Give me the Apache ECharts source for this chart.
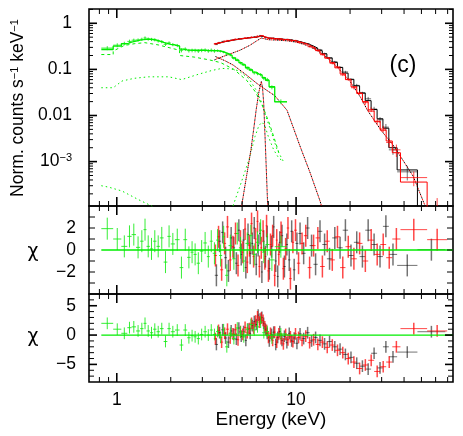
<!DOCTYPE html>
<html>
<head>
<meta charset="utf-8">
<title>Spectrum (c)</title>
<script src="https://cdn.jsdelivr.net/npm/echarts@6/dist/echarts.min.js"></script>
<style>
  html, body { margin: 0; padding: 0; background: #fff; }
  #chart { width: 463px; height: 436px; }
</style>
</head>
<body>
<div id="chart"></div>
<script>
const FONT = 'Liberation Sans';

// ---- axes ----
const X_MIN = 0.7, X_MAX = 75;
const TOP_MIN = 1.09e-4, TOP_MAX = 2.04;
const xMajorTicks = [1, 10];
const xMinorTicks = [0.8, 0.9, 2, 3, 4, 5, 6, 7, 8, 9, 20, 30, 40, 50, 60, 70];
const topMajorTicks = [0.001, 0.01, 0.1, 1];
const topMinorTicks = [2e-4, 3e-4, 4e-4, 5e-4, 6e-4, 7e-4, 8e-4, 9e-4,
  0.002, 0.003, 0.004, 0.005, 0.006, 0.007, 0.008, 0.009,
  0.02, 0.03, 0.04, 0.05, 0.06, 0.07, 0.08, 0.09,
  0.2, 0.3, 0.4, 0.5, 0.6, 0.7, 0.8, 0.9, 2];
const midTicks = [-3, -2, -1, 0, 1, 2, 3];
const midLabels = [-2, 0, 2];
const lowTicks = [-7, -6, -4, -3, -2, -1, 1, 2, 3, 4, 6];
const lowMajorTicks = [-5, 0, 5];

// ---- green (soft detector) ----
const greenEdges = [0.82, 0.955, 1.06, 1.145, 1.21, 1.28, 1.35, 1.41, 1.465, 1.53,
  1.595, 1.665, 1.74, 1.825, 1.915, 2.0, 2.11, 2.24, 2.35, 2.47,
  2.58, 2.68, 2.79, 2.91, 3.04, 3.18, 3.3, 3.43, 3.58, 3.72,
  3.87, 4.02, 4.2, 4.4, 4.6, 4.8, 5.0, 5.22, 5.47, 5.72,
  5.97, 6.22, 6.47, 6.75, 7.07, 7.6, 8.9];
const greenModel = [0.27, 0.32, 0.36, 0.39, 0.41, 0.43, 0.44, 0.45, 0.45, 0.445,
  0.43, 0.41, 0.385, 0.365, 0.35, 0.34, 0.32, 0.275, 0.265, 0.262,
  0.26, 0.26, 0.26, 0.26, 0.258, 0.256, 0.255, 0.254, 0.252, 0.245,
  0.235, 0.22, 0.2, 0.178, 0.158, 0.14, 0.125, 0.11, 0.097, 0.087,
  0.079, 0.075, 0.066, 0.058, 0.042, 0.0197];
const greenRate = [0.29, 0.335, 0.365, 0.405, 0.43, 0.435, 0.45, 0.48, 0.455, 0.447,
  0.44, 0.415, 0.4, 0.35, 0.375, 0.345, 0.33, 0.26, 0.275, 0.255,
  0.258, 0.257, 0.25, 0.259, 0.262, 0.252, 0.26, 0.252, 0.255, 0.248,
  0.238, 0.215, 0.205, 0.175, 0.16, 0.138, 0.128, 0.106, 0.099, 0.084,
  0.081, 0.077, 0.064, 0.06, 0.041, 0.02];
const greenErr = [0.1, 0.1, 0.09, 0.09, 0.08, 0.08, 0.08, 0.08, 0.08, 0.08,
  0.08, 0.08, 0.08, 0.08, 0.08, 0.08, 0.08, 0.1, 0.09, 0.09,
  0.09, 0.09, 0.09, 0.09, 0.09, 0.09, 0.09, 0.09, 0.06, 0.06,
  0.06, 0.06, 0.06, 0.07, 0.07, 0.07, 0.07, 0.08, 0.08, 0.08,
  0.08, 0.08, 0.09, 0.09, 0.1, 0.12];
const greenChiA = [1.94, 1.0, 0.33, 1.24, 1.4, 0.24, 0.8, 1.85, 0.33, 0.1,
  0.8, 0.33, 1.1, -1.1, 1.24, 0.55, 0.94, -1.6, 0.94, -0.67,
  -0.2, -0.4, -1.2, -0.1, 0.64, -0.6, 0.8, -0.3, 0.9, -0.5,
  1.2, -2.3, 0.4, -0.8, 1.5, 0.2, -1.0, 0.6, 1.3, -0.4,
  0.7, 1.8, -0.2, 0.5, -0.9, 0.3];
const greenChiB = [2.0, 1.0, 0.3, 1.26, 1.4, 0.7, 1.1, 2.0, 0.7, 0.4,
  1.0, 0.57, 1.1, -1.1, 1.1, 0.57, 0.86, -1.7, 0.86, -0.46,
  -0.1, -0.3, -0.6, 0.1, 0.57, 0, 0.86, 0.1, 0.6, -0.4,
  0.9, -2.0, 0.3, -0.6, 1.2, 0.5, -0.3, 1.0, 1.8, 0.9,
  1.4, 2.2, 0.4, 0.6, -0.5, 0.2];

// ---- red (hard detector, unit 1) ----
const redEdges = [3.48, 3.62, 3.77, 3.92, 4.07, 4.22, 4.37, 4.52, 4.67, 4.82,
  4.97, 5.12, 5.27, 5.42, 5.57, 5.72, 5.87, 6.02, 6.17, 6.32,
  6.47, 6.62, 6.77, 6.92, 7.1, 7.3, 7.5, 7.7, 7.9, 8.12,
  8.37, 8.62, 8.87, 9.15, 9.45, 9.75, 10.1, 10.55, 11.05, 11.6,
  12.2, 12.85, 13.6, 14.45, 15.4, 16.45, 17.6, 18.85, 20.25, 21.8,
  23.45, 25.25, 27.25, 29.45, 31.8, 34.4, 38.2, 53.8, 69.6];
const redModel = [0.36, 0.375, 0.39, 0.405, 0.415, 0.425, 0.435, 0.445, 0.452, 0.46,
  0.467, 0.474, 0.48, 0.486, 0.49, 0.495, 0.5, 0.51, 0.525, 0.54,
  0.52, 0.5, 0.485, 0.478, 0.472, 0.468, 0.464, 0.46, 0.456, 0.452,
  0.447, 0.442, 0.437, 0.43, 0.42, 0.41, 0.395, 0.375, 0.35, 0.32,
  0.29, 0.255, 0.215, 0.175, 0.14, 0.108, 0.08, 0.06, 0.042, 0.03,
  0.02, 0.0125, 0.0075, 0.0048, 0.0028, 0.00156, 0.00036, 0.00005];
const redRate = [0.355, 0.38, 0.382, 0.41, 0.425, 0.42, 0.437, 0.455, 0.445, 0.465,
  0.466, 0.485, 0.474, 0.488, 0.505, 0.492, 0.505, 0.53, 0.515, 0.543,
  0.535, 0.496, 0.497, 0.47, 0.475, 0.475, 0.45, 0.465, 0.454, 0.459,
  0.44, 0.443, 0.447, 0.422, 0.423, 0.425, 0.385, 0.38, 0.358, 0.31,
  0.293, 0.262, 0.208, 0.18, 0.135, 0.113, 0.076, 0.061, 0.04, 0.031,
  0.019, 0.0135, 0.0073, 0.0051, 0.0026, 0.0018, 0.00045, 0.00009];
const redErr = [0.02, 0.02, 0.02, 0.02, 0.02, 0.02, 0.02, 0.02, 0.02, 0.02,
  0.02, 0.02, 0.02, 0.02, 0.02, 0.02, 0.02, 0.02, 0.02, 0.02,
  0.02, 0.02, 0.02, 0.02, 0.025, 0.025, 0.025, 0.025, 0.025, 0.025,
  0.025, 0.025, 0.025, 0.025, 0.025, 0.025, 0.03, 0.03, 0.03, 0.035,
  0.035, 0.04, 0.04, 0.045, 0.05, 0.055, 0.06, 0.07, 0.08, 0.09,
  0.1, 0.12, 0.14, 0.17, 0.22, 0.3, 0.35, 0.8];
const redChiA = [-0.5, 1.2, -1.8, 0.6, 2.1, -0.9, 0.3, 1.5, -1.4, 0.8,
  -0.2, 1.9, -1.1, 0.4, 2.4, -0.6, 1.0, 2.6, -1.5, 0.2,
  1.7, -0.8, 2.2, -1.9, 0.5, 1.3, -2.3, 0.9, -0.4, 1.6,
  -1.7, 0.1, 2.0, -2.6, 0.7, 1.8, -1.2, 0.6, 1.3, -1.6,
  0.4, 1.1, -1.5, 0.8, -0.9, 1.2, -1.6, 0.3, -0.8, 0.6,
  -1.0, 0.9, -0.4, 0.5, -0.7, 1.0, 1.85, 0.94];
const redChiB = [-0.6, 0.8, -1.2, 0.3, 1.0, -0.5, 0.2, 0.9, -0.8, 0.6,
  0.1, 1.3, 0.4, 1.1, 2.0, 1.2, 2.4, 3.1, 2.2, 2.9,
  2.5, 1.4, 0.8, -0.4, 0.3, -0.9, 0.5, -1.2, 0.2, -0.6,
  -1.5, 0.1, -0.8, -0.3, -1.1, 0.2, -0.4, -0.9, -0.2, -1.3,
  -0.8, -1.6, -1.2, -2.1, -1.7, -2.6, -3.0, -4.0, -4.6, -5.7,
  -5.1, -4.3, -6.2, -5.4, -4.6, -2.0, 1.1, 0.7];

// ---- black (hard detector, unit 2) ----
const blackEdges = [3.52, 3.67, 3.82, 3.97, 4.12, 4.27, 4.42, 4.57, 4.72, 4.87,
  5.02, 5.17, 5.32, 5.47, 5.62, 5.77, 5.92, 6.07, 6.22, 6.37,
  6.52, 6.67, 6.82, 6.98, 7.2, 7.4, 7.6, 7.8, 8.0, 8.22,
  8.47, 8.75, 9.02, 9.3, 9.6, 9.92, 10.3, 10.75, 11.3, 11.9,
  12.5, 13.2, 14.0, 14.85, 15.9, 17.0, 18.2, 19.5, 21.0, 22.6,
  24.3, 26.2, 28.3, 30.5, 32.9, 36.6, 47.5, 68.0];
const blackModel = [0.365, 0.38, 0.395, 0.408, 0.418, 0.428, 0.438, 0.447, 0.455, 0.462,
  0.469, 0.476, 0.482, 0.487, 0.492, 0.497, 0.503, 0.515, 0.532, 0.535,
  0.51, 0.492, 0.482, 0.476, 0.471, 0.467, 0.463, 0.459, 0.455, 0.45,
  0.446, 0.44, 0.435, 0.428, 0.419, 0.408, 0.392, 0.372, 0.348, 0.32,
  0.29, 0.255, 0.217, 0.178, 0.142, 0.11, 0.083, 0.061, 0.044, 0.031,
  0.021, 0.0135, 0.0085, 0.0053, 0.002, 0.00066, 0.00004];
const blackRate = [0.345, 0.385, 0.405, 0.405, 0.41, 0.433, 0.439, 0.442, 0.465, 0.46,
  0.473, 0.468, 0.49, 0.486, 0.495, 0.51, 0.496, 0.518, 0.545, 0.522,
  0.517, 0.488, 0.488, 0.468, 0.472, 0.478, 0.459, 0.45, 0.458, 0.455,
  0.442, 0.448, 0.437, 0.436, 0.412, 0.413, 0.4, 0.37, 0.362, 0.323,
  0.284, 0.268, 0.221, 0.174, 0.146, 0.111, 0.088, 0.06, 0.045, 0.03,
  0.023, 0.0138, 0.0081, 0.0056, 0.0018, 0.0006, 0.00005];
const blackErr = [0.02, 0.02, 0.02, 0.02, 0.02, 0.02, 0.02, 0.02, 0.02, 0.02,
  0.02, 0.02, 0.02, 0.02, 0.02, 0.02, 0.02, 0.02, 0.02, 0.02,
  0.02, 0.02, 0.02, 0.02, 0.025, 0.025, 0.025, 0.025, 0.025, 0.025,
  0.025, 0.025, 0.025, 0.025, 0.025, 0.025, 0.03, 0.03, 0.03, 0.035,
  0.035, 0.04, 0.04, 0.045, 0.05, 0.055, 0.06, 0.07, 0.08, 0.09,
  0.1, 0.12, 0.14, 0.17, 0.22, 0.35, 0.8];
const blackChiA = [-2.3, 0.8, 1.6, -0.7, -1.9, 1.1, 0.2, -1.2, 1.8, -0.4,
  0.9, -1.6, 1.4, -0.3, 0.6, 2.0, -1.3, 0.4, 1.5, -2.0,
  0.8, -0.6, 1.2, -1.7, 0.3, 2.1, -1.0, -2.4, 0.7, 1.3,
  -1.5, 0.5, -0.9, 1.7, -1.8, 0.6, 1.5, -0.3, 2.0, 0.4,
  -1.3, 1.7, 0.5, -0.8, 1.1, 0.2, 1.8, -0.5, 0.7, -0.6,
  1.8, 0.5, -0.6, 2.15, -0.4, -1.4, 0.03];
const blackChiB = [-1.6, 0.4, 0.9, -0.5, -1.2, 0.7, 0.1, -0.7, 1.2, -0.2,
  0.6, -0.9, 1.0, 0.3, 1.6, 2.3, 1.8, 3.4, 2.7, 3.0,
  2.0, 1.0, 0.3, -1.0, 0.1, 0.5, -1.6, -0.4, 0.6, -0.9,
  -0.2, -1.3, 0.3, -1.0, -0.5, -1.4, 0.2, -0.6, 0.4, -1.0,
  -0.4, -0.9, -1.5, -1.1, -2.0, -2.4, -3.3, -3.8, -4.8, -5.3,
  -5.8, -3.1, -5.6, -2.0, -3.7, -2.9, 0.57];

// ---- model components (top panel, dotted) ----
const greenSoftE = [0.82, 0.955, 0.955, 1.1, 1.25, 1.43, 1.7, 2.0, 2.24, 2.24, 2.7, 3.3, 3.8, 4.5, 5.3, 5.95, 6.5, 7.07, 7.5, 8.0];
const greenSoftV = [0.21, 0.21, 0.25, 0.33, 0.36, 0.38, 0.34, 0.29, 0.26, 0.2, 0.185, 0.16, 0.14, 0.1, 0.058, 0.032, 0.016, 0.007, 0.0035, 0.0016];
const greenHardE = [0.82, 0.955, 1.07, 1.25, 1.5, 1.95, 2.3, 2.87, 3.4, 3.85, 4.3, 4.8, 5.46, 5.95, 6.4, 6.77, 7.3, 7.8, 8.5];
const greenHardV = [0.04, 0.04, 0.056, 0.064, 0.069, 0.069, 0.06, 0.079, 0.095, 0.105, 0.103, 0.093, 0.063, 0.037, 0.02, 0.0098, 0.0042, 0.0019, 0.001];
const greenBbE = [0.82, 0.9, 1.07, 1.32, 1.56, 1.75];
const greenBbV = [3e-4, 2.8e-4, 2.3e-4, 1.5e-4, 1.1e-4, 8e-5];
const greenLineE = [4.45, 5.0, 5.5, 5.9, 6.2, 6.45, 6.7, 7.0, 7.5, 8.0, 8.5];
const greenLineV = [1.1e-4, 4e-4, 0.0012, 0.0035, 0.006, 0.0072, 0.006, 0.0035, 0.0018, 0.0012, 0.001];
const redContE = [3.5, 3.66, 4.2, 4.86, 5.5, 6.0, 6.4, 7.0, 8.0, 9.0, 10, 11, 12, 13.6, 15, 17, 20, 23, 25, 28, 30, 35, 38.2, 45, 51.5, 55];
const redContV = [0.16, 0.173, 0.21, 0.26, 0.33, 0.41, 0.48, 0.44, 0.43, 0.415, 0.39, 0.35, 0.31, 0.235, 0.175, 0.11, 0.055, 0.024, 0.013, 0.0068, 0.0046, 0.0022, 0.0013, 0.00048, 0.00013, 0.00007];
const redSoftE = [3.55, 4.0, 4.46, 5.3, 6.03, 6.8, 7.6, 8.9, 10.5, 12, 13.6, 14.5];
const redSoftV = [0.19, 0.155, 0.124, 0.075, 0.05, 0.036, 0.027, 0.013, 0.0022, 0.00056, 0.00014, 0.00006];
const redLineE = [4.95, 5.3, 5.6, 5.8, 6.0, 6.2, 6.4, 6.5, 6.6, 6.75, 6.95];
const redLineV = [1e-4, 5e-4, 0.0018, 0.005, 0.014, 0.032, 0.055, 0.04, 0.018, 0.002, 1e-4];

// ---- helpers ----
const pairs = (xs, ys) => xs.map((x, i) => [x, ys[i]]);

// histogram steps: one point per bin start, plus the last bin end
function steps(edges, vals) {
  const pts = vals.map((v, i) => [edges[i], v]);
  pts.push([edges[edges.length - 1], vals[vals.length - 1]]);
  return pts;
}

// [lo, hi, value, errLow, errHigh]
function rateBars(edges, vals, frac) {
  return vals.map((v, i) => [edges[i], edges[i + 1], v, v * (1 - frac[i]), v * (1 + frac[i])]);
}
function chiBars(edges, vals) {
  return vals.map((v, i) => [edges[i], edges[i + 1], v, v - 1, v + 1]);
}

function errSeries(gi, data, color, z, width) {
  const lw = width || 1;
  return {
    type: 'custom', xAxisIndex: gi, yAxisIndex: gi, z, silent: true, clip: true,
    data, encode: { x: [0, 1], y: [2, 3, 4] },
    renderItem(params, api) {
      const lo = api.value(0), hi = api.value(1), v = api.value(2);
      const mid = Math.sqrt(lo * hi);
      const a = api.coord([lo, v]), b = api.coord([hi, v]);
      const c = api.coord([mid, api.value(3)]), d = api.coord([mid, api.value(4)]);
      return {
        type: 'group',
        children: [
          { type: 'line', shape: { x1: a[0], y1: a[1], x2: b[0], y2: b[1] }, style: { stroke: color, lineWidth: 1 } },
          { type: 'line', shape: { x1: c[0], y1: c[1], x2: d[0], y2: d[1] }, style: { stroke: color, lineWidth: lw } }
        ]
      };
    }
  };
}

function lineSeries(gi, data, color, dash, z, extra) {
  return Object.assign({
    type: 'line', xAxisIndex: gi, yAxisIndex: gi, data, z, silent: true,
    showSymbol: false, symbol: 'none', clip: true,
    lineStyle: { color, width: 1, type: dash || 'solid' }
  }, extra || {});
}

// inward ticks on all four sides of a panel
function tickSeries(gi, items, xRef, yRef) {
  return {
    type: 'custom', xAxisIndex: gi, yAxisIndex: gi, z: 30, silent: true,
    data: items.map(t => [t[0], t[1], t[2], xRef, yRef]),
    encode: { x: 3, y: 4 },
    renderItem(params, api) {
      const cs = params.coordSys;
      const v = api.value(0), len = api.value(1), kind = api.value(2);
      const lw = len > 6 ? 1.6 : 1;
      const seg = (x1, y1, x2, y2) => ({ type: 'line', shape: { x1, y1, x2, y2 }, style: { stroke: '#000', lineWidth: lw } });
      if (kind === 0) {
        const x = api.coord([v, yRef])[0];
        return { type: 'group', children: [
          seg(x, cs.y, x, cs.y + len),
          seg(x, cs.y + cs.height, x, cs.y + cs.height - len)
        ] };
      }
      const y = api.coord([xRef, v])[1];
      return { type: 'group', children: [
        seg(cs.x, y, cs.x + len, y),
        seg(cs.x + cs.width, y, cs.x + cs.width - len, y)
      ] };
    }
  };
}

const xTickItems = xMajorTicks.map(v => [v, 9, 0]).concat(xMinorTicks.map(v => [v, 5, 0]));

const decade = v => {
  const p = Math.round(Math.log10(v));
  return Math.abs(Math.log10(v) - p) < 1e-6 ? p : null;
};
const minus = v => (v < 0 ? '\u2212' + (-v) : String(v));

const labelStyle = { color: '#000', fontSize: 17.5, fontFamily: FONT };

const grids = [
  { left: 89, top: 9, width: 364, height: 197 },
  { left: 89, top: 206, width: 364, height: 88 },
  { left: 89, top: 294, width: 364, height: 88 }
].map(g => Object.assign(g, { show: true, borderColor: '#000', borderWidth: 1.6, backgroundColor: 'transparent' }));

const xAxes = [0, 1, 2].map(i => ({
  type: 'log', logBase: 10, gridIndex: i, min: X_MIN, max: X_MAX,
  axisLine: { show: false }, axisTick: { show: false }, splitLine: { show: false },
  axisLabel: Object.assign({
    show: i === 2, margin: 9, showMinLabel: false, showMaxLabel: false,
    formatter: v => { const p = decade(v); return p === null ? '' : String(Math.pow(10, p)); }
  }, labelStyle),
  name: i === 2 ? 'Energy (keV)' : '',
  nameLocation: 'middle', nameGap: 28,
  nameTextStyle: { color: '#000', fontSize: 19, fontFamily: FONT }
}));

const yAxes = [
  {
    type: 'log', logBase: 10, gridIndex: 0, min: TOP_MIN, max: TOP_MAX,
    axisLine: { show: false }, axisTick: { show: false }, splitLine: { show: false },
    axisLabel: Object.assign({
      margin: 17, showMinLabel: false, showMaxLabel: false,
      formatter: v => {
        const p = decade(v);
        if (p === null) return '';
        if (p >= -2) return ['0.01', '0.1', '1'][p + 2];
        return '10{sup|\u2212' + (-p) + '}';
      },
      rich: { sup: { fontSize: 11, fontFamily: FONT, color: '#000', verticalAlign: 'top', padding: [0, 0, 8, 0] } }
    }, labelStyle)
  },
  {
    type: 'value', gridIndex: 1, min: -4, max: 4, interval: 1,
    axisLine: { show: false }, axisTick: { show: false }, splitLine: { show: false },
    axisLabel: Object.assign({ margin: 13, formatter: v => (midLabels.includes(v) ? minus(v) : '') }, labelStyle)
  },
  {
    type: 'value', gridIndex: 2, min: -8, max: 7, interval: 1,
    axisLine: { show: false }, axisTick: { show: false }, splitLine: { show: false },
    axisLabel: Object.assign({ margin: 13, formatter: v => (lowMajorTicks.includes(v) ? minus(v) : '') }, labelStyle)
  }
];

const RED = '#ff0000', BLACK = '#000000', GREEN = '#00ee00';
const RED_BAR = 'rgba(255,0,0,0.72)', BLACK_BAR = 'rgba(0,0,0,0.55)', GREEN_BAR = 'rgba(20,235,20,0.85)';
const redDots = { lineStyle: { color: RED, width: 1, type: [1.5, 2.5], dashOffset: 2 } };

const series = [
  // top panel: model components
  lineSeries(0, pairs(greenSoftE, greenSoftV), GREEN, [3, 3], 2),
  lineSeries(0, pairs(greenHardE, greenHardV), GREEN, [1.5, 3], 2),
  lineSeries(0, pairs(greenBbE, greenBbV), GREEN, [1.5, 3], 2),
  lineSeries(0, pairs(greenLineE, greenLineV), GREEN, [1.5, 3], 2),
  lineSeries(0, pairs(redContE, redContV), BLACK, [1.5, 2.5], 2),
  lineSeries(0, pairs(redSoftE, redSoftV), BLACK, [1.5, 2.5], 2),
  lineSeries(0, pairs(redLineE, redLineV), BLACK, [1.5, 2.5], 2),
  lineSeries(0, pairs(redContE, redContV), RED, null, 3, redDots),
  lineSeries(0, pairs(redSoftE, redSoftV), RED, null, 3, redDots),
  lineSeries(0, pairs(redLineE, redLineV), RED, null, 3, redDots),
  // top panel: data + folded models
  errSeries(0, rateBars(blackEdges, blackRate, blackErr), BLACK_BAR, 4),
  lineSeries(0, steps(blackEdges, blackModel), BLACK, 'solid', 5, { step: 'end' }),
  errSeries(0, rateBars(redEdges, redRate, redErr), RED_BAR, 6),
  lineSeries(0, steps(redEdges, redModel), RED, 'solid', 7, { step: 'end' }),
  errSeries(0, rateBars(greenEdges, greenRate, greenErr), GREEN_BAR, 8),
  lineSeries(0, steps(greenEdges, greenModel), GREEN, 'solid', 9, { step: 'end', lineStyle: { color: GREEN, width: 1.3 } }),
  // residuals, panel 2
  errSeries(1, chiBars(blackEdges, blackChiA), BLACK_BAR, 4, 1.5),
  errSeries(1, chiBars(redEdges, redChiA), RED_BAR, 5, 1.5),
  errSeries(1, chiBars(greenEdges, greenChiA), GREEN_BAR, 6),
  lineSeries(1, [[greenEdges[0], 0], [X_MAX, 0]], GREEN, 'solid', 10, { lineStyle: { color: GREEN, width: 1.3 } }),
  // residuals, panel 3
  errSeries(2, chiBars(blackEdges, blackChiB), BLACK_BAR, 4, 1.5),
  errSeries(2, chiBars(redEdges, redChiB), RED_BAR, 5, 1.5),
  errSeries(2, chiBars(greenEdges, greenChiB), GREEN_BAR, 6),
  lineSeries(2, [[greenEdges[0], 0], [X_MAX, 0]], GREEN, 'solid', 10, { lineStyle: { color: GREEN, width: 1.3 } }),
  // ticks
  tickSeries(0, xTickItems.concat(topMajorTicks.map(v => [v, 8, 1]), topMinorTicks.map(v => [v, 4, 1])), 1, 1),
  tickSeries(1, xTickItems.concat(midTicks.map(v => [v, 6, 1])), 1, 0),
  tickSeries(2, xTickItems.concat(lowMajorTicks.map(v => [v, 8, 1]), lowTicks.map(v => [v, 5, 1])), 1, 0)
];

const centered = { align: 'center', verticalAlign: 'middle', textAlign: 'center', textVerticalAlign: 'middle', fill: '#000' };

const chart = echarts.init(document.getElementById('chart'), null, { renderer: 'canvas' });
chart.setOption({
  animation: false,
  backgroundColor: '#fff',
  textStyle: { fontFamily: FONT },
  grid: grids,
  xAxis: xAxes,
  yAxis: yAxes,
  series,
  graphic: [
    {
      type: 'text', x: 18, y: 108, rotation: Math.PI / 2,
      style: Object.assign({
        text: 'Norm. counts s{sup|\u22121} keV{sup|\u22121}',
        fontSize: 17.5, fontFamily: FONT,
        rich: { sup: { fontSize: 11, fontFamily: FONT, fill: '#000', verticalAlign: 'top' } }
      }, centered)
    },
    { type: 'text', x: 33, y: 252, style: Object.assign({ text: '\u03c7', fontSize: 19, fontFamily: 'DejaVu Sans' }, centered) },
    { type: 'text', x: 33, y: 337, style: Object.assign({ text: '\u03c7', fontSize: 19, fontFamily: 'DejaVu Sans' }, centered) },
    { type: 'text', x: 403, y: 66, style: Object.assign({ text: '(c)', fontSize: 23, fontFamily: FONT }, centered) }
  ]
});
</script>
</body>
</html>
